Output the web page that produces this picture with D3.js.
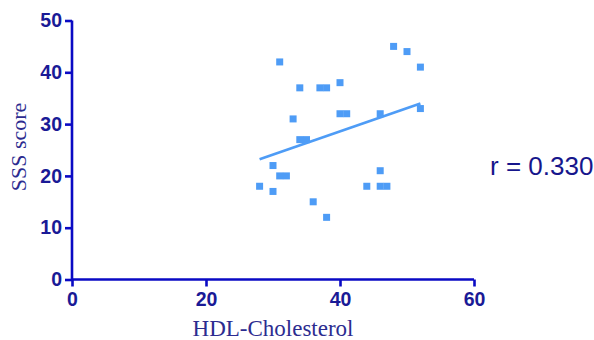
<!DOCTYPE html>
<html><head><meta charset="utf-8">
<script src="https://cdn.jsdelivr.net/npm/d3@7"></script>
<style>html,body{margin:0;padding:0;background:#fff;}svg{display:block;}</style>
</head><body>
<svg id="c" width="594" height="340"></svg>
<script>
const hdl = [28,30,30,31,32,31,33,34,34,35,36,37,38,38,40,40,41,44,46,46,46,47,48,50,52,52];
const sss = [18,22,17,20,20,42,31,37,27,27,15,37,37,12,38,32,32,18,32,21,18,18,45,44,41,33];
const xTicks = [0,20,40,60];
const yTicks = [0,10,20,30,40,50];
const xTitle = "HDL-Cholesterol";
const yTitle = "SSS score";
const rLabel = "r = 0.330";

const svg = d3.select("#c");
const x = d3.scaleLinear().domain([0,60]).range([72,474]);
const y = d3.scaleLinear().domain([0,50]).range([279.5,20.5]);
const axisCol = "#0a0ac4", labCol = "#1a1a96", ptCol = "#4e9cf6";

const xa = svg.append("g").attr("transform","translate(0,"+y(0)+")")
  .call(d3.axisBottom(x).tickValues(xTicks).tickSize(7).tickPadding(6));
const ya = svg.append("g").attr("transform","translate("+x(0)+",0)")
  .call(d3.axisLeft(y).tickValues(yTicks).tickSize(7).tickPadding(3));
[xa,ya].forEach(a=>{
  a.select(".domain").attr("stroke",axisCol).attr("stroke-width",2.6);
  a.selectAll(".tick line").attr("stroke",axisCol).attr("stroke-width",2.6);
  a.selectAll(".tick text").attr("fill",labCol).attr("font-family","Arial, 'Liberation Sans', sans-serif")
    .attr("font-weight","bold").attr("font-size",19.5);
});
xa.select(".domain").attr("d","M"+x(0)+",0H"+x(60));
ya.select(".domain").attr("d","M0,"+y(0)+"V"+y(50));

// regression line (least squares from the data)
const mx = d3.mean(hdl), my = d3.mean(sss);
let sxy=0,sxx=0; hdl.forEach((v,i)=>{sxy+=(v-mx)*(sss[i]-my);sxx+=(v-mx)*(v-mx);});
const b = sxy/sxx, a0 = my - b*mx;
const [x0,x1] = d3.extent(hdl);
svg.append("line").attr("x1",x(x0)).attr("y1",y(a0+b*x0)).attr("x2",x(x1)).attr("y2",y(a0+b*x1))
  .attr("stroke",ptCol).attr("stroke-width",2.6);

svg.append("g").selectAll("rect").data(hdl).join("rect")
  .attr("x",(d)=>x(d)-3.5).attr("y",(d,i)=>y(sss[i])-3.5).attr("width",7).attr("height",7)
  .attr("fill",ptCol);

svg.append("text").attr("x",273).attr("y",336).attr("text-anchor","middle")
  .attr("font-family","'Liberation Serif','Times New Roman',serif").attr("font-size",23)
  .attr("fill","#2c2c90").text(xTitle);
svg.append("text").attr("transform","translate(26,147) rotate(-90)").attr("text-anchor","middle")
  .attr("font-family","'Liberation Serif','Times New Roman',serif").attr("font-size",22)
  .attr("fill","#2c2c90").text(yTitle);
svg.append("text").attr("x",490).attr("y",175)
  .attr("font-family","Arial, 'Liberation Sans', sans-serif").attr("font-size",26)
  .attr("fill","#16168c").text(rLabel);
</script>
</body></html>
